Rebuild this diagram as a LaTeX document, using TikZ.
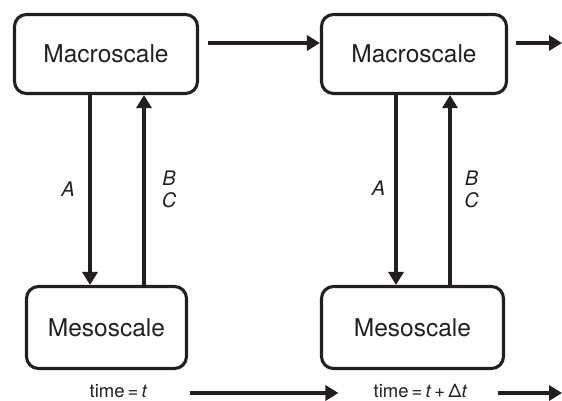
\documentclass[tikz,border=0pt]{standalone}
\usepackage{fontspec}
\setmainfont{TeX Gyre Heros}
\usetikzlibrary{arrows.meta}
\definecolor{ink}{RGB}{35,31,32}
\begin{document}
\begin{tikzpicture}[x=1pt,y=-1pt,
  scalebox/.style={draw=ink,line width=3.1pt,rounded corners=12pt,
    font=\fontsize{24.5}{28}\selectfont,text=ink,inner sep=0pt},
  arr/.style={draw=ink,line width=4.4pt,-{Triangle[length=13pt,width=15pt]}},
  lab/.style={font=\fontsize{20}{24}\selectfont\itshape,text=ink,inner sep=0pt},
  tlab/.style={font=\fontsize{18.5}{22}\selectfont,text=ink,inner sep=0pt}]
\useasboundingbox (0,0) rectangle (562,400);

% scale boxes
\node[scalebox,minimum width=183pt,minimum height=79pt] (macro1) at (106,54) {Macroscale};
\node[scalebox,minimum width=185pt,minimum height=79pt] (macro2) at (414,54) {Macroscale};
\node[scalebox,minimum width=160pt,minimum height=82pt] (meso1) at (106.5,327.5) {Mesoscale};
\node[scalebox,minimum width=182pt,minimum height=82pt] (meso2) at (412.5,327.5) {Mesoscale};

% columns of the vertical couplings
\coordinate (d1) at (90,0);
\coordinate (u1) at (144,0);
\coordinate (d2) at (396,0);
\coordinate (u2) at (450,0);

\draw[arr] (macro1.south -| d1) -- (meso1.north -| d1);
\draw[arr] (meso1.north -| u1) -- (macro1.south -| u1);
\draw[arr] (macro2.south -| d2) -- (meso2.north -| d2);
\draw[arr] (meso2.north -| u2) -- (macro2.south -| u2);

% coupling labels
\node[lab] (a1) at (68,189) {A};
\node[lab] (bc1) at (169,192) {\begin{tabular}{@{}c@{}}B\\[-2pt]C\end{tabular}};
\node[lab] (a2) at (378.5,188) {A};
\node[lab] (bc2) at (471.5,192) {\begin{tabular}{@{}c@{}}B\\[-2pt]C\end{tabular}};

% macroscale time stepping
\coordinate (t1) at (208,43);
\coordinate (t2) at (516,43);
\coordinate (tend) at (562,43);
\draw[arr] (t1) -- (macro2.west |- t1);
\draw[arr] (t2) -- (tend);

% time axis
\node[tlab] (time1) at (118.5,391) {time\,=\,\textit{t}};
\node[tlab] (time2) at (420.5,391) {time\,=\,\textit{t}\,+\,Δ\textit{t}};
\coordinate (bend) at (562,393);
\draw[arr] ([xshift=42pt,yshift=-2pt]time1.east) -- ([xshift=-35pt,yshift=-2pt]time2.west);
\draw[arr] ([xshift=30pt,yshift=-2pt]time2.east) -- (bend);
\end{tikzpicture}
\end{document}
